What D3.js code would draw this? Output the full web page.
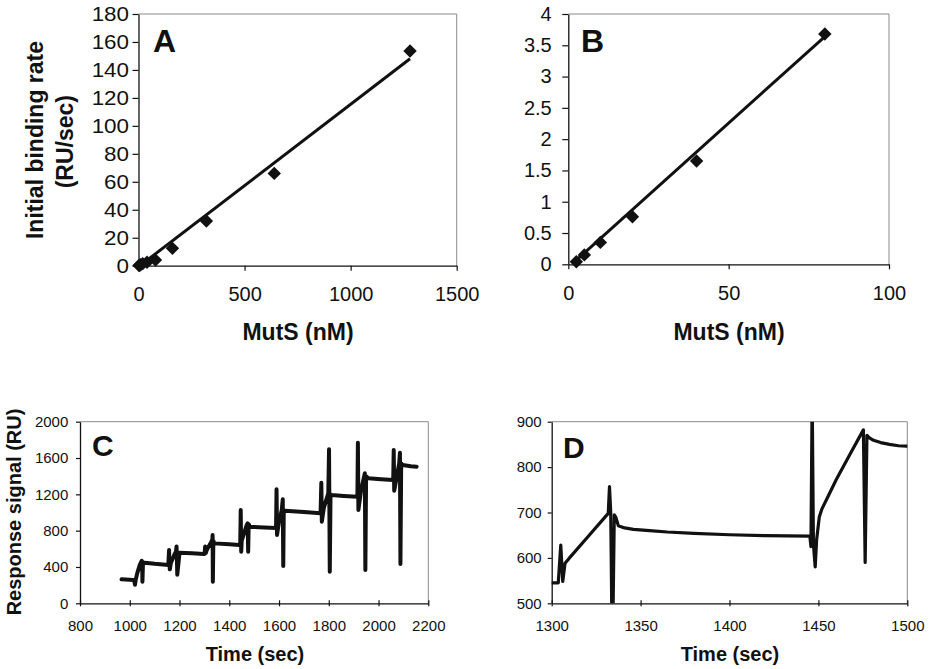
<!DOCTYPE html>
<html><head><meta charset="utf-8">
<script src="https://cdn.jsdelivr.net/npm/d3@7"></script>
<style>
body{margin:0;background:#fff;}
svg{display:block;font-family:Arial,"Liberation Sans",sans-serif;}
</style></head><body>
<svg id="chart" width="932" height="669"></svg>
<script>
// ---------- DATA ----------
// Panel A
const concA = [2.5, 5, 10, 20, 40, 80, 160, 320, 640, 1280];
const rateA = [0.1, 0.3, 0.7, 1.5, 2.5, 4, 12.4, 32, 66, 153.5];
const fitAx = [2.5, 1280];
const fitAy = [-0.5, 148];
const xTicksA = [0, 500, 1000, 1500];
const yTicksA = [0, 20, 40, 60, 80, 100, 120, 140, 160, 180];
// Panel B
const concB = [2.5, 5, 10, 20, 40, 80];
const rateB = [0.04, 0.15, 0.35, 0.76, 1.65, 3.68];
const fitBx = [1.5, 80];
const fitBy = [0.02, 3.64];
const xTicksB = [0, 50, 100];
const yTicksB = [0, 0.5, 1, 1.5, 2, 2.5, 3, 3.5, 4];
// Panel C (sensorgram)
const timeC = [967,1014,1018,1021,1024,1030,1040,1048,1050,1051,1053,1060,1100,1155,
  1158,1159,1161,1165,1180,1186,1188,1189,1191,1200,1250,1298,
  1301,1303,1306,1310,1326,1332,1333,1334,1336,1339,1400,1440,
  1444,1446,1448,1450,1470,1474,1476,1478,1483,1540,1588,
  1590,1592,1600,1611,1615,1617,1619,1624,1700,1767,
  1770,1772,1780,1798,1801,1804,1807,1811,1860,1915,
  1917,1919,1930,1945,1947,1950,1959,2010,2059,
  2061,2063,2075,2083,2086,2088,2091,2097,2130,2153];
const ruC = [264,257,250,205,260,330,420,469,460,238,440,447,435,422,
  587,480,374,440,540,570,625,560,315,557,550,543,
  545,625,555,590,668,700,752,238,690,660,650,642,
  645,1027,568,690,862,880,568,870,844,835,830,
  1255,752,900,1027,1145,411,1020,1020,1005,991,
  1328,899,1050,1211,1696,348,1200,1193,1183,1174,
  1769,1028,1250,1432,367,1400,1377,1366,1358,
  1688,1240,1420,1542,1659,433,1540,1523,1510,1504];
const xTicksC = [800, 1000, 1200, 1400, 1600, 1800, 2000, 2200];
const yTicksC = [0, 400, 800, 1200, 1600, 2000];
// Panel D (zoom of C)
const timeD = [1300,1303.7,1305.1,1306.2,1307.5,1310,1320,1331.8,1332.5,1333.2,1333.8,1334.5,1335.2,1336,1337.5,1341,1346,1355,1365,1380,1400,1420,1445.2,
  1445.8,1446.5,1447.2,1448.2,1449,1450.5,1452,1455,1460,1468,1475.3,1476.3,1477.3,1478.5,1481,1485,1490,1495,1499.7];
const ruD = [545,545,628,548,588,600,645,698,757,700,480,480,695,690,671,666,663,660,657,654,651,649,648,
  625,960,630,580,640,690,708,732,772,830,882,590,870,865,859,854,850,847,846];
const xTicksD = [1300, 1350, 1400, 1450, 1500];
const yTicksD = [500, 600, 700, 800, 900];

// ---------- DRAW ----------
const svg = d3.select('#chart');
const defs = svg.append('defs');
let clipId = 0;

function panel(o) {
  const x = d3.scaleLinear().domain(o.xDomain).range([o.left, o.right]);
  const y = d3.scaleLinear().domain(o.yDomain).range([o.bottom, o.top]);
  const g = svg.append('g');
  g.append('path')
    .attr('d', `M${o.left},${o.top}H${o.right}V${o.bottom}`)
    .attr('fill', 'none').attr('stroke', '#8a8a8a').attr('stroke-width', 1);

  const xa = g.append('g').attr('transform', `translate(0,${o.bottom})`)
    .call(d3.axisBottom(x).tickValues(o.xTicks).tickSizeInner(o.xTickSize).tickSizeOuter(0)
      .tickPadding(o.xPad).tickFormat(d => d));
  const ya = g.append('g').attr('transform', `translate(${o.left},0)`)
    .call(d3.axisLeft(y).tickValues(o.yTicks).tickSizeInner(o.yTickSize).tickSizeOuter(0)
      .tickPadding(o.yPad).tickFormat(d => d));
  [xa, ya].forEach(a => {
    a.attr('font-family', 'Arial, "Liberation Sans", sans-serif').attr('font-size', o.tickFont);
    a.selectAll('.domain').attr('stroke', '#111').attr('stroke-width', 1.3);
    a.selectAll('.tick line').attr('stroke', '#111').attr('stroke-width', 1.2);
    a.selectAll('.tick text').attr('fill', '#111');
  });
  if (o.yStretch) {
    ya.selectAll('.tick text').each(function() {
      const w = this.getComputedTextLength();
      d3.select(this).attr('textLength', w * o.yStretch).attr('lengthAdjust', 'spacingAndGlyphs');
    });
  }
  if (o.crossX) xa.selectAll('.tick line').attr('y1', -o.xTickSize);

  const cid = 'clip' + (clipId++);
  defs.append('clipPath').attr('id', cid).append('rect')
    .attr('x', o.left).attr('y', o.top).attr('width', o.right - o.left).attr('height', o.bottom - o.top);
  const plot = g.append('g').attr('clip-path', `url(#${cid})`);

  if (o.fitX) {
    plot.append('path')
      .datum(o.fitX.map((v, i) => [v, o.fitY[i]]))
      .attr('d', d3.line().x(d => x(d[0])).y(d => y(d[1])))
      .attr('fill', 'none').attr('stroke', '#111').attr('stroke-width', 3);
  }
  if (o.ptsX) {
    g.selectAll('.pt').data(o.ptsX.map((v, i) => [v, o.ptsY[i]])).join('path')
      .attr('d', d3.symbol(d3.symbolSquare, 90)())
      .attr('transform', d => `translate(${x(d[0])},${y(d[1])}) rotate(45)`)
      .attr('fill', '#111');
  }
  if (o.lineX) {
    plot.append('path')
      .datum(o.lineX.map((v, i) => [v, o.lineY[i]]))
      .attr('d', d3.line().curve(d3.curveLinear).x(d => x(d[0])).y(d => y(d[1])))
      .attr('fill', 'none').attr('stroke', '#111').attr('stroke-width', o.lineW)
      .attr('stroke-linejoin', 'round').attr('stroke-linecap', 'round');
  }
  g.append('text').attr('x', o.letterX).attr('y', o.letterY)
    .attr('font-size', o.letterSize).attr('font-weight', 'bold').attr('fill', '#111').text(o.letter);
  g.append('text').attr('x', o.xTitleX).attr('y', o.xTitleY).attr('text-anchor', 'middle')
    .attr('font-size', o.titleFont).attr('font-weight', 'bold').attr('fill', '#111').text(o.xTitle);
  (o.yTitles || []).forEach(t => {
    g.append('text').attr('transform', `translate(${t.x},${t.y}) rotate(-90)`)
      .attr('text-anchor', 'middle').attr('font-size', o.titleFont).attr('font-weight', 'bold')
      .attr('fill', '#111').text(t.text);
  });
}

panel({
  xDomain: [0, 1500], yDomain: [0, 180], left: 138.5, right: 456.7, top: 14, bottom: 265.7,
  xTicks: xTicksA, yTicks: yTicksA, xTickSize: 5, xPad: 16, yTickSize: 6, yPad: 3.5, tickFont: 20, yStretch: 1.12,
  ptsX: concA, ptsY: rateA, fitX: fitAx, fitY: fitAy,
  letter: 'A', letterX: 153, letterY: 52, letterSize: 32,
  xTitle: 'MutS (nM)', xTitleX: 298, xTitleY: 340, titleFont: 23,
  yTitles: [{text: 'Initial binding rate', x: 42.7, y: 140}, {text: '(RU/sec)', x: 72.5, y: 141.7}]
});
panel({
  xDomain: [0, 100], yDomain: [0, 4], left: 568.3, right: 889, top: 14, bottom: 264.3,
  xTicks: xTicksB, yTicks: yTicksB, xTickSize: 5, xPad: 17, yTickSize: 6, yPad: 10.6, tickFont: 20,
  ptsX: concB, ptsY: rateB, fitX: fitBx, fitY: fitBy,
  letter: 'B', letterX: 581, letterY: 52, letterSize: 32,
  xTitle: 'MutS (nM)', xTitleX: 729, xTitleY: 340, titleFont: 23
});
panel({
  xDomain: [800, 2200], yDomain: [0, 2000], left: 80, right: 428.3, top: 421.7, bottom: 603.3,
  xTicks: xTicksC, yTicks: yTicksC, xTickSize: 3, xPad: 13.7, crossX: true, yTickSize: 4, yPad: 7.7, tickFont: 15,
  lineX: timeC, lineY: ruC, lineW: 4,
  letter: 'C', letterX: 92, letterY: 456, letterSize: 30,
  xTitle: 'Time (sec)', xTitleX: 255, xTitleY: 661, titleFont: 20,
  yTitles: [{text: 'Response signal (RU)', x: 21, y: 512}]
});
panel({
  xDomain: [1300, 1500], yDomain: [500, 900], left: 551.7, right: 907.3, top: 421.7, bottom: 603.3,
  xTicks: xTicksD, yTicks: yTicksD, xTickSize: 3, xPad: 13.7, crossX: true, yTickSize: 4, yPad: 6, tickFont: 15,
  lineX: timeD, lineY: ruD, lineW: 3.2,
  letter: 'D', letterX: 563, letterY: 458, letterSize: 30,
  xTitle: 'Time (sec)', xTitleX: 730, xTitleY: 661, titleFont: 20
});
</script>
</body></html>
